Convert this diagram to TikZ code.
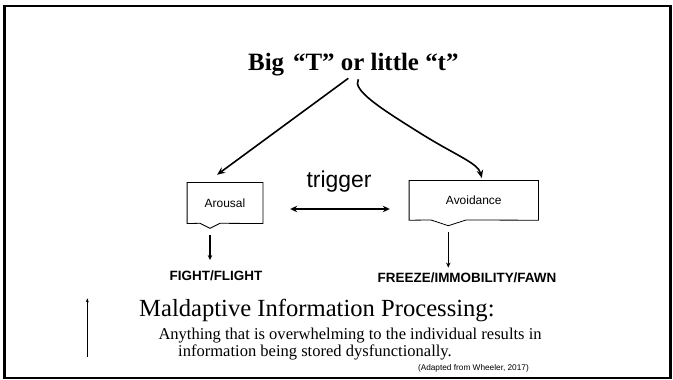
\documentclass[tikz,border=0pt]{standalone}
\usepackage{fontspec}
\setmainfont{Liberation Serif}
\setsansfont{Liberation Sans}
\usetikzlibrary{arrows.meta}
\begin{document}
\begin{tikzpicture}[x=1bp,y=-1bp,
  boxlbl/.style={inner sep=0pt, font=\sffamily\fontsize{12}{14}\selectfont},
  boxline/.style={draw=black, line width=0.8bp, line join=miter},
  bigarrow/.style={line width=1.6bp, -{Stealth[length=8bp,width=6.5bp]}},
  dblarrow/.style={line width=1.8bp, {Stealth[length=7bp,width=6.5bp]}-{Stealth[length=7bp,width=6.5bp]}},
  downarrow/.style={line width=1.2bp, -{Stealth[length=5bp,width=4.5bp]}},
  thinarrow/.style={line width=0.7bp, -{Stealth[length=4bp,width=3bp]}},
  outcome/.style={inner sep=0pt, anchor=base, font=\sffamily\bfseries\fontsize{13.5}{16}\selectfont},
  serifline/.style={inner sep=0pt, anchor=base west},
]
\useasboundingbox (0,0) rectangle (673,379);
\draw[line width=2.5bp] (4.5,6) rectangle (670.5,378);

% title
\node[inner sep=0pt, anchor=base, font=\bfseries\fontsize{25}{30}\selectfont] (title) at (353.3,70)
  {Big\hspace{9bp}“T” or little “t”};
\coordinate (ls) at (348.3,78.3);
\coordinate (rs) at (358.3,79.3);

% boxes
\node[boxlbl, minimum width=75.4bp, minimum height=40.6bp] (arousal) at (225,203) {Arousal};
\coordinate (atip) at (210,228.3);
\draw[boxline] (arousal.north west) -- (arousal.north east) -- (arousal.south east)
  -- (220,223.3) -- (atip) -- (200,223.3) -- (arousal.south west) -- cycle;

\node[boxlbl, minimum width=129bp, minimum height=39.3bp] (avoid) at (473.8,200.35) {Avoidance};
\coordinate (vtip) at (448.3,225.7);
\draw[boxline] (avoid.north west) -- (avoid.north east) -- (avoid.south east)
  -- (466,220) -- (vtip) -- (431,220) -- (avoid.south west) -- cycle;

% title arrows
\draw[bigarrow] (ls) -- ([xshift=-8bp,yshift=7.7bp]arousal.north);
\coordinate (rend) at ([xshift=8bp,yshift=2.4bp]avoid.north);
\draw[bigarrow] (rs) .. controls (352,90) and (380,108) .. (420,133)
  .. controls (455,155) and (478,163) .. (rend);

% trigger
\node[inner sep=0pt, anchor=base, font=\sffamily\fontsize{23}{27}\selectfont] (trig) at (339,187) {trigger};
\coordinate (t1) at ([xshift=27.3bp,yshift=-6bp]arousal.east);
\draw[dblarrow] (t1) -- ([xshift=-19.3bp]t1 -| avoid.west);

% outcomes
\node[outcome] (fight) at (216,280) {FIGHT/FLIGHT};
\node[outcome] (freeze) at (467,282.5) {FREEZE/IMMOBILITY/FAWN};
\draw[downarrow] ([yshift=-6.7bp]atip) -- ([yshift=10bp]atip |- fight.north);
\draw[downarrow] ([yshift=-6.3bp]vtip) -- ([yshift=5bp]vtip |- freeze.north);

% bottom text
\coordinate (vb) at (87.3,356.7);
\coordinate (vt) at (87.3,298.3);
\draw[thinarrow] (vb) -- (vt);
\node[serifline, font=\fontsize{24.7}{28}\selectfont] (mip) at (139,316.7) {Maldaptive Information Processing:};
\node[serifline, font=\fontsize{16.6}{19}\selectfont] (l1) at (158.3,339.3) {Anything that is overwhelming to the individual results in};
\node[serifline, font=\fontsize{16.6}{19}\selectfont] (l2) at (178,356) {information being stored dysfunctionally.};
\node[inner sep=0pt, anchor=base east, font=\sffamily\fontsize{8.3}{10}\selectfont] (cite) at (529,370.5) {(Adapted from Wheeler, 2017)};
\end{tikzpicture}
\end{document}
